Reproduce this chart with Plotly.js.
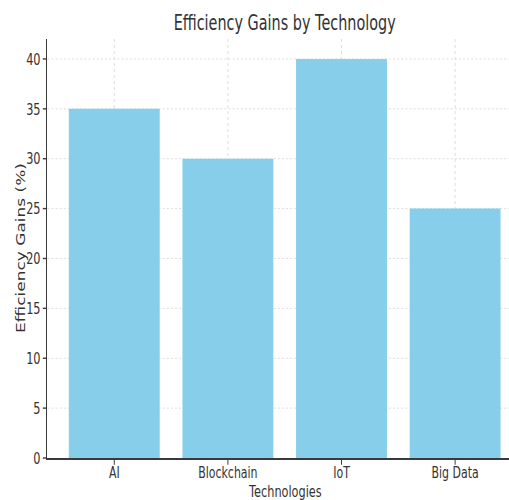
<!DOCTYPE html>
<html>
<head>
<meta charset="utf-8">
<script src="https://cdn.plot.ly/plotly-3.0.1.min.js"></script>
<style>
  html, body { margin: 0; padding: 0; background: #ffffff; overflow: hidden; }
  #frame { width: 509px; height: 500px; overflow: hidden; position: relative; }
  /* the figure is laid out wide and narrowed horizontally, so text comes out condensed */
  #chart { position: absolute; left: 0; top: 0; transform-origin: 0 0; }
</style>
</head>
<body>
<div id="frame"><div id="chart"></div></div>
<script>
// Efficiency gains per technology, in percent
const technologies = ["AI", "Blockchain", "IoT", "Big Data"];
const efficiencyGains = [35, 30, 40, 25];
const yTickValues = [0, 5, 10, 15, 20, 25, 30, 35, 40];

const squeeze = 0.686;          // horizontal scale applied to the whole figure
const figWidth = 761;           // unscaled figure width (right edge runs past the frame)
const textColor = "#333333";
const baseFont = "DejaVu Sans, sans-serif";

document.getElementById("chart").style.transform = "scaleX(" + squeeze + ")";

const trace = {
  type: "bar",
  x: technologies,
  y: efficiencyGains,
  marker: { color: "#87CEEB", line: { width: 0 } },
  hoverinfo: "x+y"
};

const layout = {
  width: figWidth,
  height: 500,
  margin: { l: 68.5, r: 0, t: 39, b: 42 },
  paper_bgcolor: "#ffffff",
  plot_bgcolor: "#ffffff",
  bargap: 0.2,
  showlegend: false,
  font: { family: baseFont, color: textColor, size: 16 },
  title: {
    text: "Efficiency Gains by Technology",
    font: { family: baseFont, size: 21, color: textColor },
    xref: "paper",
    x: 0.5,
    xanchor: "center",
    yref: "container",
    y: 0.955,
    yanchor: "middle"
  },
  xaxis: {
    type: "category",
    range: [-0.589, 3.589],
    showgrid: true,
    gridcolor: "#d6d6d6",
    griddash: "dot",
    gridwidth: 1,
    showline: true,
    linecolor: "#3a3a3a",
    linewidth: 1.8,
    ticks: "outside",
    ticklen: 5,
    tickwidth: 1.4,
    tickcolor: "#3a3a3a",
    tickfont: { family: baseFont, size: 16, color: textColor },
    ticklabelstandoff: -6,
    zeroline: false
  },
  yaxis: {
    range: [0, 42],
    tickvals: yTickValues,
    showgrid: true,
    gridcolor: "#d6d6d6",
    griddash: "dot",
    gridwidth: 1,
    showline: true,
    linecolor: "#3a3a3a",
    linewidth: 1.6,
    ticks: "outside",
    ticklen: 5,
    tickwidth: 1.4,
    tickcolor: "#3a3a3a",
    tickfont: { family: baseFont, size: 16.5, color: textColor },
    zeroline: false
  },
  // axis titles placed as paper annotations so they can sit inside the tight margins
  annotations: [
    {
      text: "Technologies",
      xref: "paper", yref: "paper",
      x: 0.5, y: 0,
      xanchor: "center", yanchor: "middle",
      yshift: -33,
      showarrow: false,
      font: { family: baseFont, size: 16.5, color: textColor }
    },
    {
      text: "Efficiency Gains (%)",
      xref: "paper", yref: "paper",
      x: 0, y: 0.5,
      xanchor: "center", yanchor: "middle",
      xshift: -39.5,
      textangle: -90,
      showarrow: false,
      font: { family: baseFont, size: 17, color: textColor }
    }
  ]
};

Plotly.newPlot("chart", [trace], layout, { displayModeBar: false, staticPlot: true });
</script>
</body>
</html>
